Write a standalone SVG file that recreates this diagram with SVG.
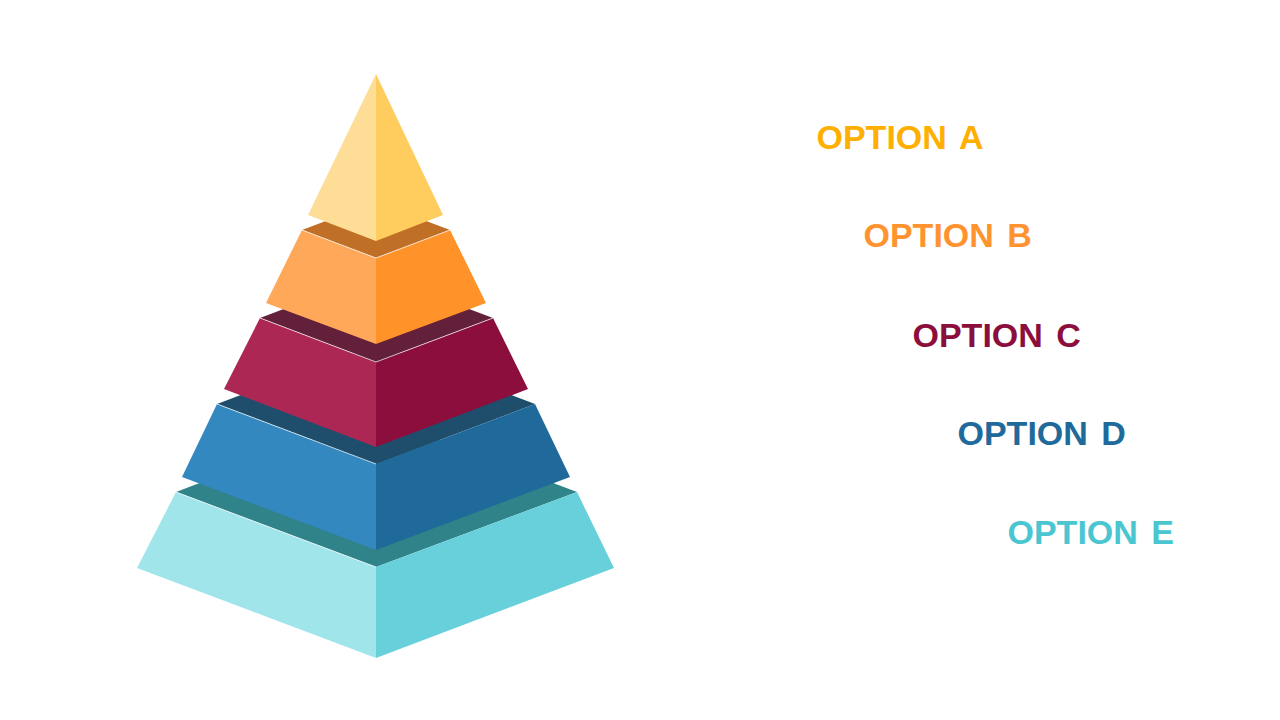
<svg xmlns="http://www.w3.org/2000/svg" width="1280" height="720" viewBox="0 0 1280 720">
<style>
.lbl{font-family:"Liberation Sans",Arial,sans-serif;font-weight:bold;font-size:34px;word-spacing:4px}
.seam{fill:none;stroke:#ffffff;stroke-width:1;stroke-opacity:0.7}
</style>
<rect width="1280" height="720" fill="#ffffff"/>
<g id="tier-e">
<polygon points="176,492 376,416 577,492 376,567" fill="#2F8389"/>
<polygon points="176,492 376,567 376,658 137,568" fill="#A0E5EA"/>
<polygon points="376,567 577,492 614,568 376,658" fill="#68D0DA"/>
<polyline class="seam" points="176,492 376,567"/>
</g>
<g id="tier-d">
<polygon points="217,404 376,344 535,404 376,464" fill="#1F4E6C"/>
<polygon points="217,404 376,464 376,550 182,477" fill="#3388BF"/>
<polygon points="376,464 535,404 570,477 376,550" fill="#206A9B"/>
<polyline class="seam" points="217,404 376,464" stroke-opacity="0.4"/>
</g>
<g id="tier-c">
<polygon points="260,318 376,274 493,318 376,362" fill="#62203A"/>
<polygon points="260,318 376,362 376,447 224,389" fill="#AD2755"/>
<polygon points="376,362 493,318 528,389 376,447" fill="#8C0E3C"/>
<polyline class="seam" points="260,318 376,362 493,318"/>
</g>
<g id="tier-b">
<polygon points="302,230 376,202 450,230 376,258" fill="#C07026"/>
<polygon points="302,230 376,258 376,344 266,303" fill="#FFA85A"/>
<polygon points="376,258 450,230 486,303 376,344" fill="#FF9229"/>
<polyline class="seam" points="302,230 376,258 450,230"/>
</g>
<g id="tier-a">
<polygon points="376,74 376,241 308,215" fill="#FEDD97"/>
<polygon points="376,74 443,215 376,241" fill="#FFCC5E"/>
</g>
<g id="labels">
<text class="lbl" x="816.5" y="149" fill="#FFAF00">OPTION A</text>
<text class="lbl" x="863.5" y="247" fill="#FF9330">OPTION B</text>
<text class="lbl" x="912.5" y="346.5" fill="#8C0E3C">OPTION C</text>
<text class="lbl" x="957.5" y="445" fill="#206A9B">OPTION D</text>
<text class="lbl" x="1007.5" y="543.5" fill="#4AC6D0">OPTION E</text>
</g>
</svg>
